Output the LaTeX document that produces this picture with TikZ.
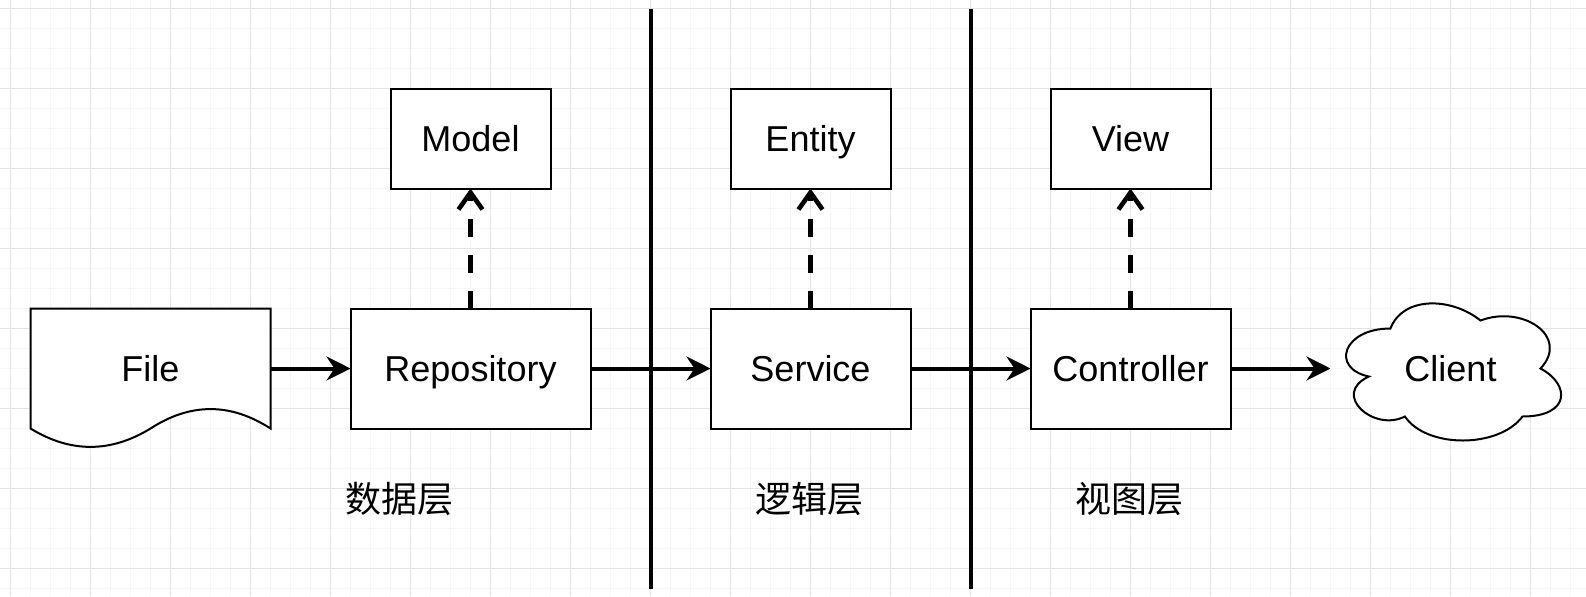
\documentclass[tikz,border=0pt]{standalone}
\usepackage{fontspec}
\setmainfont{Liberation Sans}
\newfontfamily\cjk{Noto Sans CJK SC}
\usetikzlibrary{arrows.meta}
\definecolor{gridminor}{RGB}{246,246,246}
\definecolor{gridmajor}{RGB}{228,228,228}
\tikzset{
  lbl/.style={font=\fontsize{18}{21.6}\selectfont, inner sep=0pt, outer sep=0pt, text height=12.9pt, text depth=0pt},
  box/.style={lbl, draw=black, line width=1pt, fill=white, minimum height=60pt},
  flow/.style={line width=2pt, -{Stealth[length=12pt,width=12pt,inset=4pt]}},
  dep/.style={line width=2.3pt, dash pattern=on 9pt off 9pt, -{Straight Barb[length=8.5pt,width=12pt]}},
  layerline/.style={line width=2pt},
  shapeline/.style={draw=black, line width=1pt, fill=white},
  cjklbl/.style={font=\cjk\fontsize{18}{21.6}\selectfont, inner sep=0pt},
}
\begin{document}
\begin{tikzpicture}[x=0.5pt,y=-0.5pt]
\useasboundingbox (0,0) rectangle (1586,596);
\fill[white] (0,0) rectangle (1586,596);
% grid
\foreach \i in {0,...,78} \draw[gridminor, line width=0.7pt] ({10.5+20*\i},0) -- ({10.5+20*\i},596);
\foreach \i in {0,...,29} \draw[gridminor, line width=0.7pt] (0,{8.5+20*\i}) -- (1586,{8.5+20*\i});
\foreach \i in {0,...,19} \draw[gridmajor, line width=0.75pt] ({10.5+80*\i},0) -- ({10.5+80*\i},596);
\foreach \i in {0,...,7} \draw[gridmajor, line width=0.75pt] (0,{8.5+80*\i}) -- (1586,{8.5+80*\i});

% layer separators
\draw[layerline] (650.5,8.5) -- (650.5,588.5);
\draw[layerline] (970.5,8.5) -- (970.5,588.5);

% document shape (File)
\path[shapeline] (30.5,308.5) -- (270.5,308.5) -- (270.5,428.5)
  .. controls (230.5,402.6) and (190.5,402.6) .. (150.5,428.5)
  .. controls (110.5,453.0) and (70.5,453.0) .. (30.5,428.5) -- cycle;
\node[lbl, minimum width=120pt, minimum height=60pt] (file) at (150.5,368.5) {File};

% cloud shape (Client)
\path[shapeline] (1390.5,328.5)
  .. controls (1342.5,328.5) and (1330.5,368.5) .. (1368.9,376.5)
  .. controls (1330.5,394.1) and (1373.7,432.5) .. (1404.9,416.5)
  .. controls (1426.5,448.5) and (1498.5,448.5) .. (1522.5,416.5)
  .. controls (1570.5,416.5) and (1570.5,384.5) .. (1540.5,368.5)
  .. controls (1570.5,336.5) and (1522.5,304.5) .. (1480.5,320.5)
  .. controls (1450.5,296.5) and (1402.5,296.5) .. (1390.5,328.5) -- cycle;
\node[lbl, minimum width=120pt, minimum height=80pt] (client) at (1450.5,368.5) {Client};

% boxes
\node[box, minimum width=120pt] (repo) at (470.5,368.5) {Repository};
\node[box, minimum width=100pt] (service) at (810.5,368.5) {Service};
\node[box, minimum width=100pt] (controller) at (1130.5,368.5) {Controller};
\node[box, minimum width=80pt, minimum height=50pt] (model) at (470.5,138.5) {Model};
\node[box, minimum width=80pt, minimum height=50pt] (entity) at (810.5,138.5) {Entity};
\node[box, minimum width=80pt, minimum height=50pt] (view) at (1130.5,138.5) {View};

% layer labels
\node[cjklbl] (l1) at (399,499) {数据层};
\node[cjklbl] (l2) at (809,499) {逻辑层};
\node[cjklbl] (l3) at (1129,499) {视图层};

% connectors
\draw[flow] (file.east) -- (repo.west);
\draw[flow] (repo.east) -- (service.west);
\draw[flow] (service.east) -- (controller.west);
\draw[flow] (controller.east) -- (client.west);
\draw[dep] (repo.north) -- (model.south);
\draw[dep] (service.north) -- (entity.south);
\draw[dep] (controller.north) -- (view.south);
\end{tikzpicture}
\end{document}
